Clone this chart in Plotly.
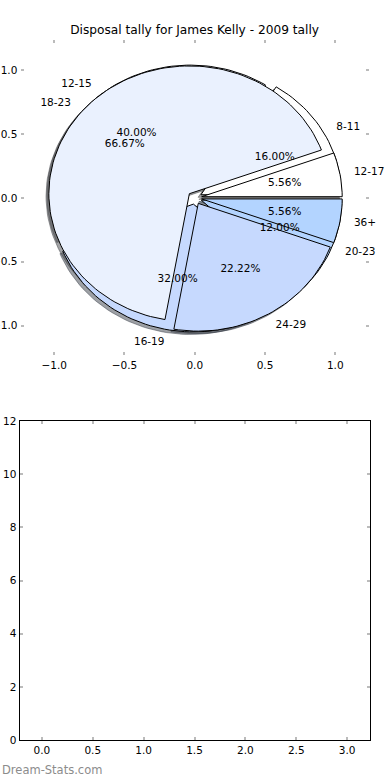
import math
import plotly.graph_objects as go

# ---- data ----
title_text = "Disposal tally for James Kelly - 2009 tally"
labels_a = ["8-11", "12-15", "16-19", "20-23"]
values_a = [4, 10, 8, 3]
labels_b = ["12-17", "18-23", "24-29", "36+"]
values_b = [1, 12, 4, 1]
slice_colors = ["#FFFFFF", "#EAF1FE", "#C6D9FE", "#B3D4FF"]
explode = 0.05
pie_xticks = [-1.0, -0.5, 0.0, 0.5, 1.0]
pie_yticks = [-1.0, -0.5, 0.0, 0.5, 1.0]
bar_xticks = [0.0, 0.5, 1.0, 1.5, 2.0, 2.5, 3.0]
bar_yticks = [0, 2, 4, 6, 8, 10, 12]
watermark = "Dream-Stats.com"

FONT = "DejaVu Sans"
FS = 10.5


def wedges(values):
    total = float(sum(values))
    out = []
    t1 = 0.0
    for v in values:
        t2 = t1 + 360.0 * v / total
        mid = math.radians((t1 + t2) / 2)
        cx = explode * math.cos(mid)
        cy = explode * math.sin(mid)
        n = max(4, int((t2 - t1) / 2))
        xs, ys = [cx], [cy]
        for i in range(n + 1):
            a = math.radians(t1 + (t2 - t1) * i / n)
            xs.append(cx + math.cos(a))
            ys.append(cy + math.sin(a))
        xs.append(cx)
        ys.append(cy)
        out.append(dict(xs=xs, ys=ys, cx=cx, cy=cy, mid=mid, pct=100.0 * v / total))
        t1 = t2
    return out


def shade(hexc):
    r = int(hexc[1:3], 16) * 0.3
    g = int(hexc[3:5], 16) * 0.3
    b = int(hexc[5:7], 16) * 0.3
    return "rgba(%d,%d,%d,0.5)" % (r, g, b)


fig = go.Figure()
pies = [(labels_a, wedges(values_a)), (labels_b, wedges(values_b))]

# shadows
for labels, ws in pies:
    for i, w in enumerate(ws):
        c = shade(slice_colors[i])
        fig.add_trace(go.Scatter(
            x=[x - 0.02 for x in w["xs"]], y=[y - 0.02 for y in w["ys"]],
            mode="lines", fill="toself", fillcolor=c,
            line=dict(color=c, width=1), hoverinfo="skip", showlegend=False,
            xaxis="x", yaxis="y"))

# wedges
for labels, ws in pies:
    for i, w in enumerate(ws):
        fig.add_trace(go.Scatter(
            x=w["xs"], y=w["ys"], mode="lines", fill="toself",
            fillcolor=slice_colors[i], line=dict(color="black", width=1),
            hoverinfo="skip", showlegend=False, xaxis="x", yaxis="y"))

# texts
for labels, ws in pies:
    for i, w in enumerate(ws):
        lx = w["cx"] + 1.1 * math.cos(w["mid"])
        ly = w["cy"] + 1.1 * math.sin(w["mid"])
        fig.add_trace(go.Scatter(
            x=[lx], y=[ly], mode="text", text=[labels[i]],
            textposition="middle right" if lx > 0 else "middle left",
            textfont=dict(family=FONT, size=FS, color="black"), cliponaxis=False,
            hoverinfo="skip", showlegend=False, xaxis="x", yaxis="y"))
        px = w["cx"] + 0.6 * math.cos(w["mid"])
        py = w["cy"] + 0.6 * math.sin(w["mid"])
        fig.add_trace(go.Scatter(
            x=[px], y=[py], mode="text", text=["%1.2f%%" % w["pct"]],
            textposition="middle center", cliponaxis=False,
            textfont=dict(family=FONT, size=FS, color="black"),
            hoverinfo="skip", showlegend=False, xaxis="x", yaxis="y"))

# empty lower axes
fig.add_trace(go.Scatter(x=[], y=[], xaxis="x2", yaxis="y2", showlegend=False))

tick_common = dict(ticks="inside", ticklen=3, tickwidth=1.5, tickcolor="#bbbbbb",
                   showgrid=False, zeroline=False, automargin=False,
                   tickfont=dict(family=FONT, size=FS, color="black"))

fig.update_layout(
    width=390, height=780, margin=dict(l=0, r=0, t=0, b=0, autoexpand=False),
    paper_bgcolor="white", plot_bgcolor="white", showlegend=False,
    title=dict(text=title_text, x=0.499, xanchor="center", y=1 - 30 / 780,
               yanchor="middle", font=dict(family=FONT, size=12.2, color="black"),
               automargin=False),
    xaxis=dict(domain=[20.5 / 390, 369 / 390], range=[-1.24, 1.24],
               tickvals=pie_xticks, tickformat=".1f", anchor="y",
               showline=True, linecolor="rgba(0,0,0,0)", mirror="ticks", **tick_common),
    yaxis=dict(domain=[1 - 355 / 780, 1 - 40 / 780], range=[-1.23, 1.235],
               tickvals=pie_yticks, tickformat=".1f", anchor="x",
               showline=True, linecolor="rgba(0,0,0,0)", mirror="ticks", **tick_common),
    xaxis2=dict(domain=[19.5 / 390, 370 / 390], range=[-0.22, 3.225],
                tickvals=bar_xticks, tickformat=".1f", anchor="y2",
                showline=True, linecolor="black", linewidth=1, mirror="ticks", **tick_common),
    yaxis2=dict(domain=[1 - 740 / 780, 1 - 421 / 780], range=[0, 12],
                tickvals=bar_yticks, anchor="x2",
                showline=True, linecolor="black", linewidth=1, mirror="ticks", **tick_common),
    annotations=[dict(text=watermark, x=0, xref="paper", xanchor="left",
                      y=1 - 770 / 780, yref="paper", yanchor="middle", showarrow=False,
                      font=dict(family=FONT, size=11.5, color="#8c8c8c"))],
)

fig.write_html("out.html", config={"displayModeBar": False},
               post_script="document.body.style.margin='0';")
